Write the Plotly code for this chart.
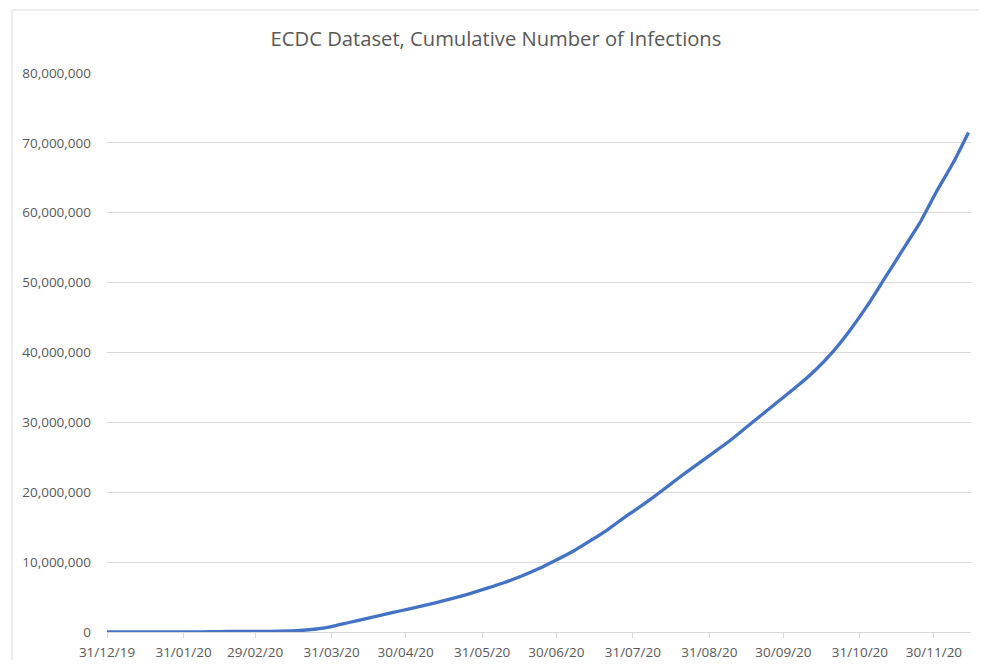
import plotly.graph_objects as go

dates = [
    "2019-12-31", "2020-01-07", "2020-01-14", "2020-01-21", "2020-01-28",
    "2020-02-04", "2020-02-11", "2020-02-18", "2020-02-25", "2020-03-03",
    "2020-03-10", "2020-03-17", "2020-03-24", "2020-03-31", "2020-04-07",
    "2020-04-14", "2020-04-21", "2020-04-28", "2020-05-05", "2020-05-12",
    "2020-05-19", "2020-05-26", "2020-06-02", "2020-06-09", "2020-06-16",
    "2020-06-23", "2020-06-30", "2020-07-07", "2020-07-14", "2020-07-21",
    "2020-07-28", "2020-08-04", "2020-08-11", "2020-08-18", "2020-08-25",
    "2020-09-01", "2020-09-08", "2020-09-15", "2020-09-22", "2020-09-29",
    "2020-10-06", "2020-10-13", "2020-10-20", "2020-10-27", "2020-11-03",
    "2020-11-10", "2020-11-17", "2020-11-24", "2020-12-01", "2020-12-08",
    "2020-12-14",
]
cumulative_cases = [
    27, 59, 60, 300, 4600,
    20600, 45000, 75000, 80400, 92000,
    117000, 185000, 395000, 780000, 1360000,
    1920000, 2480000, 3040000, 3580000, 4180000,
    4800000, 5500000, 6270000, 7090000, 8010000,
    9070000, 10300000, 11600000, 13100000, 14700000,
    16500000, 18200000, 20000000, 21900000, 23700000,
    25500000, 27300000, 29300000, 31300000, 33300000,
    35300000, 37500000, 40100000, 43200000, 46700000,
    50600000, 54500000, 58400000, 63000000, 67300000,
    71500000,
]

tick_dates = [
    "2019-12-31", "2020-01-31", "2020-02-29", "2020-03-31", "2020-04-30",
    "2020-05-31", "2020-06-30", "2020-07-31", "2020-08-31", "2020-09-30",
    "2020-10-31", "2020-11-30",
]
tick_labels = [
    "31/12/19", "31/01/20", "29/02/20", "31/03/20", "30/04/20",
    "31/05/20", "30/06/20", "31/07/20", "31/08/20", "30/09/20",
    "31/10/20", "30/11/20",
]

title_text = "ECDC Dataset, Cumulative Number of Infections"

# page has an 8px body margin; figure size/margins compensate for it
OFF = 8
W, H = 971, 652
ML, MR, MT, MB = 107 - OFF, W - (971 - OFF), 73 - OFF, H - (632 - OFF)
PW, PH = W - ML - MR, H - MT - MB

fig = go.Figure()
fig.add_trace(go.Scatter(
    x=dates, y=cumulative_cases, mode="lines",
    line=dict(color="#4472C4", width=3.3, shape="spline", smoothing=0.5),
    hoverinfo="x+y", showlegend=False,
))

grid = "#D9D9D9"
txt = "#595959"
font_family = "Open Sans, Liberation Sans, sans-serif"

border_top = 1 + (MT - (10 - OFF)) / PH
border_left = ((12 - OFF) - ML) / PW

fig.update_layout(
    width=W, height=H,
    margin=dict(l=ML, r=MR, t=MT, b=MB, autoexpand=False),
    paper_bgcolor="white", plot_bgcolor="white",
    font=dict(family=font_family, color=txt, size=13.5),
    title=dict(text=title_text, x=(496 - OFF) / W, xref="container", xanchor="center",
               y=1 - (39 - OFF) / H, yref="container", yanchor="middle",
               font=dict(size=20.2, color=txt, family=font_family)),
    xaxis=dict(
        type="date", range=["2019-12-31", "2020-12-15"],
        tickvals=tick_dates, ticktext=tick_labels,
        showgrid=False, showline=True, linecolor=grid, linewidth=1,
        ticks="outside", ticklen=5, tickcolor=grid, tickwidth=1,
        tickfont=dict(size=13.5, color=txt), zeroline=False,
        ticklabelstandoff=3,
        automargin=False,
    ),
    yaxis=dict(
        range=[0, 80000000], dtick=10000000, tickformat=",",
        showgrid=True, gridcolor=grid, gridwidth=1,
        showline=False, zeroline=False, ticks="",
        ticklabelstandoff=15,
        tickfont=dict(size=13.5, color=txt),
        automargin=False,
    ),
    shapes=[
        dict(type="line", xref="paper", yref="paper",
             x0=border_left, x1=1.2,
             y0=border_top, y1=border_top,
             line=dict(color=grid, width=1)),
        dict(type="line", xref="paper", yref="paper",
             x0=border_left, x1=border_left,
             y0=border_top, y1=-0.2,
             line=dict(color=grid, width=1)),
    ],
)

fig.write_html("out.html")
